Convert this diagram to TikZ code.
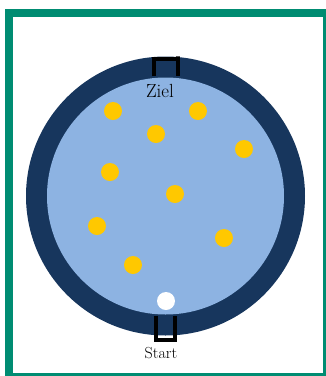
\documentclass[tikz,border=0pt]{standalone}
\usepackage{fontspec}
\usetikzlibrary{positioning,calc}
\definecolor{framegreen}{HTML}{008C72}
\definecolor{ringblue}{HTML}{17365D}
\definecolor{poolblue}{HTML}{8DB3E2}
\definecolor{coinyellow}{HTML}{FFC800}

\begin{document}
\begin{tikzpicture}[x=1pt, y=-1pt,
    coin/.style={circle, fill=coinyellow, minimum size=18pt, inner sep=0pt},
    ballstart/.style={circle, fill=white, minimum size=18pt, inner sep=0pt},
    gate/.style={line width=4pt, black},
    caption/.style={font=\fontsize{16}{18}\selectfont, inner sep=0pt}
  ]
  \useasboundingbox (0,0) rectangle (326,376);

  % Frame
  \draw[line width=8pt, framegreen] (9,13) rectangle (327,377);

  % Arena: dark ring and light floor
  \node[circle, fill=ringblue, minimum size=279pt, inner sep=0pt] (ring) at (165.5,196) {};
  \node[circle, fill=poolblue, minimum size=237pt, inner sep=0pt] (pool) at (ring.center) {};

  % Gates
  \draw[gate] ($(ring.north)+(-12,20)$) |- ($(ring.north)+(12,2.5)$) -- ++(0,-2.5) -- ++(0,20);
  \draw[gate] ($(ring.south)+(-9.5,-20)$) |- ($(ring.south)+(9.5,4.5)$) -- ++(0,-24.5);

  % Labels
  \node[caption, font=\fontsize{19}{21}\selectfont] (ziel) at (160,91) {Ziel};
  \node[caption] (start) at (161,353) {Start};

  % Coins
  \foreach \cx/\cy [count=\i] in {113/111, 198/111, 156/134, 244/149, 110/172,
                                   175/194, 97/226, 224/238, 133/265}
    \node[coin] (coin\i) at (\cx,\cy) {};

  % Ball at the start
  \node[ballstart] (ball) at (166,301) {};
\end{tikzpicture}
\end{document}
